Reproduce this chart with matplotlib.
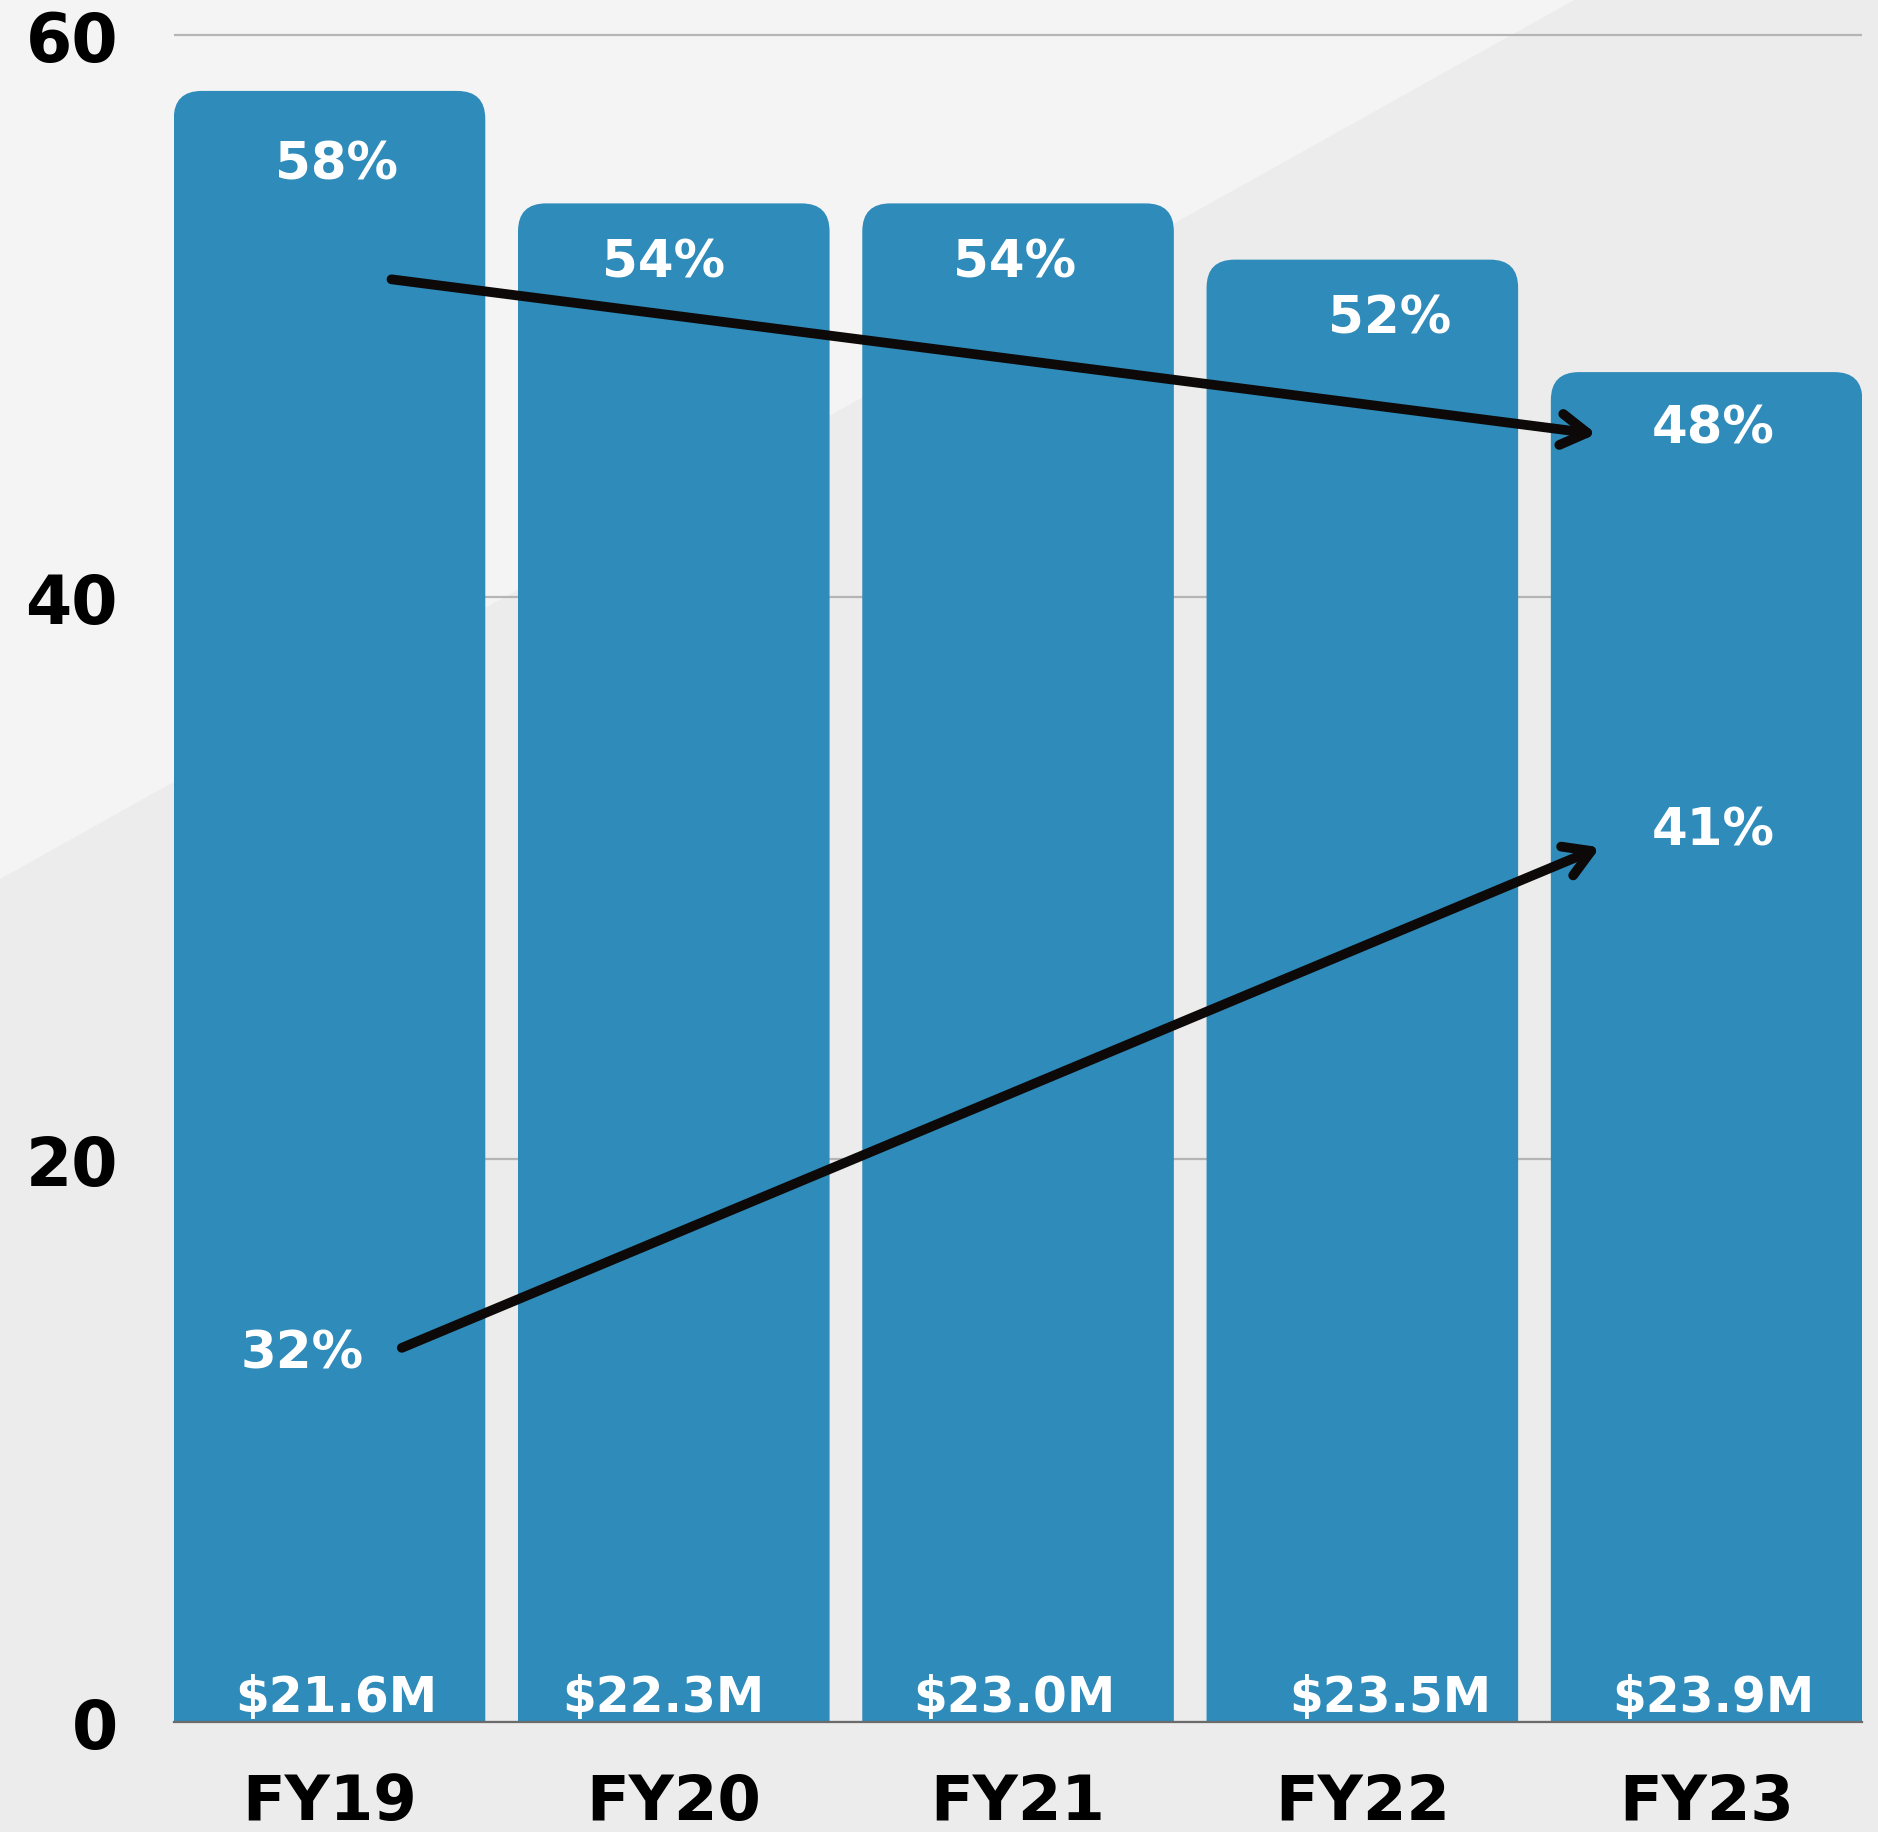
import matplotlib
matplotlib.use('Agg')
import matplotlib.pyplot as plt
from matplotlib.patches import FancyBboxPatch, Polygon

# data
years = ['FY19', 'FY20', 'FY21', 'FY22', 'FY23']
share = [58, 54, 54, 52, 48]
revenue = [21.6, 22.3, 23.0, 23.5, 23.9]
other_years = ['FY19', 'FY23']
other_share = [32, 41]

# label placement (offsets in data units)
label_dx = [0.02, -0.03, -0.01, 0.08, 0.02]
share_dy = [3.1, 2.6, 2.6, 2.6, 2.5]
other_y = [12.6, 31.2]
other_dx = [-0.08, 0.02]

bar_color = '#2e8bba'
arrow_color = '#0d0909'

plt.rcParams['font.family'] = ['DejaVu Sans']

fig = plt.figure(figsize=(18.78, 18.33), dpi=100)
fig.patch.set_facecolor('#ececec')
fig.add_artist(Polygon([[0, 0.52], [0, 1], [0.839, 1]], closed=True,
                       transform=fig.transFigure, facecolor='#f4f4f4',
                       edgecolor='none', zorder=0))

ax = fig.add_axes([0.0925, 0.0601, 0.8992, 0.937])
ax.set_facecolor('none')
ax.set_xlim(-0.4525, 4.4525)
ax.set_ylim(0, 61.08)

x = list(range(len(years)))
bars = ax.bar(x, share, width=0.905, color=bar_color, zorder=2)

# rounded top corners
p0 = ax.transData.transform((0, 0))
p1 = ax.transData.transform((1, 1))
px_x = p1[0] - p0[0]
px_y = p1[1] - p0[1]
radius = 28
for rect in bars:
    rect.set_visible(False)
    bx, bw, bh = rect.get_x(), rect.get_width(), rect.get_height()
    ax.add_patch(FancyBboxPatch((bx, -3), bw, bh + 3,
                                boxstyle=f'round,pad=0,rounding_size={radius / px_x}',
                                mutation_aspect=px_x / px_y,
                                facecolor=bar_color, edgecolor='none', zorder=2))

# labels inside bars
for i, v in enumerate(share):
    ax.text(i + label_dx[i], v - share_dy[i], f'{v}%', color='white',
            fontsize=37, fontweight='bold', ha='center', va='baseline', zorder=4)
    ax.text(i + label_dx[i], 0.4, f'${revenue[i]:.1f}M', color='white',
            fontsize=35, fontweight='bold', ha='center', va='baseline', zorder=4)

for j, v in enumerate(other_share):
    xi = years.index(other_years[j])
    ax.text(xi + other_dx[j], other_y[j], f'{v}%', color='white',
            fontsize=37, fontweight='bold', ha='center', va='baseline', zorder=4)

# trend arrows
aprops = dict(arrowstyle='->,head_length=0.75,head_width=0.45', lw=7,
              color=arrow_color, shrinkA=0, shrinkB=0,
              capstyle='round', joinstyle='round', mutation_scale=25)
ax.annotate('', xy=(4 - 0.32, share[-1] - 2.2), xytext=(0.18, share[0] - 6.7),
            arrowprops=aprops, zorder=5)
ax.annotate('', xy=(4 - 0.31, other_y[1] - 0.1), xytext=(0.21, other_y[0] + 0.7),
            arrowprops=aprops, zorder=5)

# axes styling
ax.set_yticks([0, 20, 40, 60])
ax.set_xticks(x)
ax.set_xticklabels(years)
ax.set_axisbelow(True)
ax.yaxis.grid(True, color='#b5b5b5', lw=1.6)
for s in ['left', 'right', 'top']:
    ax.spines[s].set_visible(False)
ax.spines['bottom'].set_color('#6b6b6b')
ax.spines['bottom'].set_linewidth(1.6)
ax.spines['bottom'].set_zorder(3)
ax.tick_params(axis='both', length=0)
ax.tick_params(axis='y', pad=40, labelsize=48)
ax.tick_params(axis='x', pad=36, labelsize=45)
for t in ax.get_xticklabels() + ax.get_yticklabels():
    t.set_fontweight('bold')
    t.set_color('black')

fig.savefig('out.png', dpi=100, facecolor=fig.get_facecolor())
